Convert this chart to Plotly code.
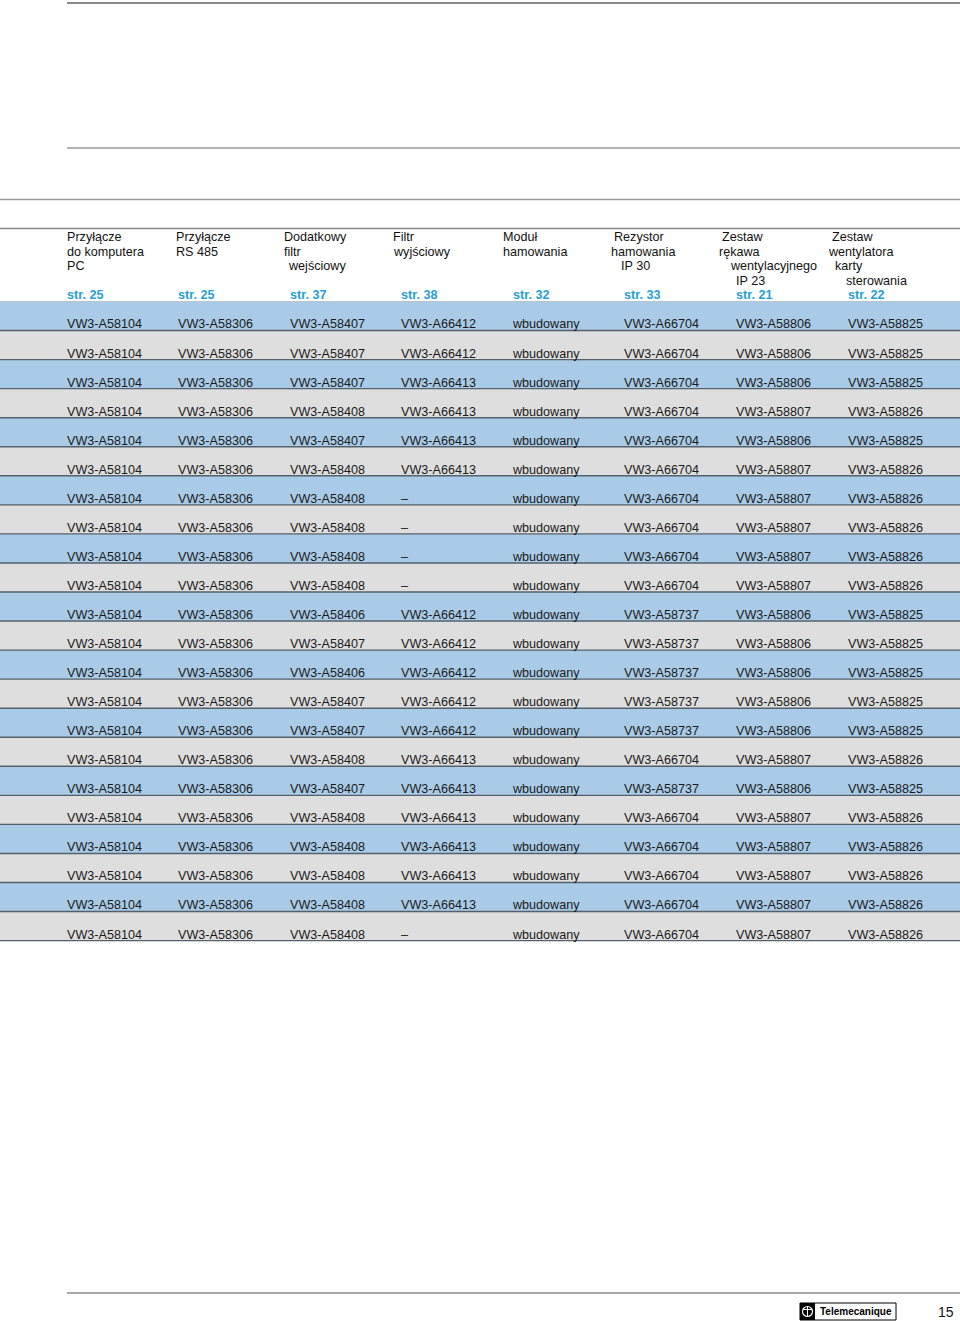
"""
Accessories table page (Polish catalogue) rebuilt with plotly
"""

import plotly.graph_objects as go

# --- data -------------------------------------------------------------
header_lines = [
    ["Przyłącze", "do komputera", "PC"],
    ["Przyłącze", "RS 485"],
    ["Dodatkowy", "filtr", "wejściowy"],
    ["Filtr", "wyjściowy"],
    ["Moduł", "hamowania"],
    ["Rezystor", "hamowania", "IP 30"],
    ["Zestaw", "rękawa", "wentylacyjnego", "IP 23"],
    ["Zestaw", "wentylatora", "karty", "sterowania"],
]
page_refs = ["str. 25", "str. 25", "str. 37", "str. 38", "str. 32", "str. 33", "str. 21", "str. 22"]

col_pc = ["VW3-A58104"] * 22
col_rs485 = ["VW3-A58306"] * 22
col_input_filter = [
    "VW3-A58407", "VW3-A58407", "VW3-A58407", "VW3-A58408", "VW3-A58407", "VW3-A58408",
    "VW3-A58408", "VW3-A58408", "VW3-A58408", "VW3-A58408", "VW3-A58406", "VW3-A58407",
    "VW3-A58406", "VW3-A58407", "VW3-A58407", "VW3-A58408", "VW3-A58407", "VW3-A58408",
    "VW3-A58408", "VW3-A58408", "VW3-A58408", "VW3-A58408",
]
col_output_filter = [
    "VW3-A66412", "VW3-A66412", "VW3-A66413", "VW3-A66413", "VW3-A66413", "VW3-A66413",
    "–", "–", "–", "–", "VW3-A66412", "VW3-A66412",
    "VW3-A66412", "VW3-A66412", "VW3-A66412", "VW3-A66413", "VW3-A66413", "VW3-A66413",
    "VW3-A66413", "VW3-A66413", "VW3-A66413", "–",
]
col_brake_module = ["wbudowany"] * 22
col_brake_resistor = [
    "VW3-A66704", "VW3-A66704", "VW3-A66704", "VW3-A66704", "VW3-A66704", "VW3-A66704",
    "VW3-A66704", "VW3-A66704", "VW3-A66704", "VW3-A66704", "VW3-A58737", "VW3-A58737",
    "VW3-A58737", "VW3-A58737", "VW3-A58737", "VW3-A66704", "VW3-A58737", "VW3-A66704",
    "VW3-A66704", "VW3-A66704", "VW3-A66704", "VW3-A66704",
]
col_sleeve_kit = [
    "VW3-A58806", "VW3-A58806", "VW3-A58806", "VW3-A58807", "VW3-A58806", "VW3-A58807",
    "VW3-A58807", "VW3-A58807", "VW3-A58807", "VW3-A58807", "VW3-A58806", "VW3-A58806",
    "VW3-A58806", "VW3-A58806", "VW3-A58806", "VW3-A58807", "VW3-A58806", "VW3-A58807",
    "VW3-A58807", "VW3-A58807", "VW3-A58807", "VW3-A58807",
]
col_fan_kit = [
    "VW3-A58825", "VW3-A58825", "VW3-A58825", "VW3-A58826", "VW3-A58825", "VW3-A58826",
    "VW3-A58826", "VW3-A58826", "VW3-A58826", "VW3-A58826", "VW3-A58825", "VW3-A58825",
    "VW3-A58825", "VW3-A58825", "VW3-A58825", "VW3-A58826", "VW3-A58825", "VW3-A58826",
    "VW3-A58826", "VW3-A58826", "VW3-A58826", "VW3-A58826",
]
columns = [col_pc, col_rs485, col_input_filter, col_output_filter,
           col_brake_module, col_brake_resistor, col_sleeve_kit, col_fan_kit]

# --- layout constants (page pixels) ----------------------------------
W, H = 960, 1321
FONT = "Liberation Sans, Arial, Helvetica, sans-serif"
BLUE = "#a9cbe7"
GREY = "#dedede"
col_x = [67, 178, 290, 401, 513, 624, 736, 848]
# per-line x of header text (indents as in the print)
header_x = [
    [67, 67, 67],
    [176, 176],
    [284, 284, 289],
    [393, 394],
    [503, 503],
    [614, 611, 621],
    [722, 719, 731, 736],
    [832, 829, 835, 846],
]
header_y0, header_dy = 238, 14.6
ref_y = 296
row_top, row_h = 301.5, 29.05

n_rows = len(col_pc)
row_centers = [row_top + row_h * (i + 0.5) for i in range(n_rows)]
row_bottoms = [row_top + row_h * (i + 1) for i in range(n_rows)]
row_text_y = [b - 5.2 for b in row_bottoms]
row_colors = [BLUE if i % 2 == 0 else GREY for i in range(n_rows)]

fig = go.Figure()

# row bands
fig.add_trace(go.Bar(
    orientation="h",
    y=row_centers,
    x=[W] * n_rows,
    base=0,
    width=row_h,
    marker=dict(color=row_colors, line=dict(width=0)),
    hoverinfo="skip",
))

# row separators (under the text)
sep_x, sep_y = [], []
for yb in row_bottoms:
    sep_x += [0, W, None]
    sep_y += [yb, yb, None]
fig.add_trace(go.Scatter(
    x=sep_x, y=sep_y, mode="lines",
    line=dict(color="#56606a", width=1.4),
    hoverinfo="skip",
))

# body text
for cx, vals in zip(col_x, columns):
    fig.add_trace(go.Scatter(
        x=[cx] * n_rows,
        y=row_text_y,
        mode="text",
        text=vals,
        textposition="middle right",
        textfont=dict(family=FONT, size=12.6, color="#1a1a1a"),
        hoverinfo="skip",
    ))

# header text
for xs, lines in zip(header_x, header_lines):
    fig.add_trace(go.Scatter(
        x=xs,
        y=[header_y0 + header_dy * k for k in range(len(lines))],
        mode="text",
        text=lines,
        textposition="middle right",
        textfont=dict(family=FONT, size=12.6, color="#111111"),
        hoverinfo="skip",
    ))

fig.add_trace(go.Scatter(
    x=col_x,
    y=[ref_y] * len(page_refs),
    mode="text",
    text=["<b>%s</b>" % r for r in page_refs],
    textposition="middle right",
    textfont=dict(family=FONT, size=12.6, color="#27a0d8"),
    hoverinfo="skip",
))

shapes = []
# page rules
for y, x0, col, w in [(3, 67, "#8a8a8a", 2), (148, 67, "#9a9a9a", 1.3),
                      (199.5, 0, "#9a9a9a", 1.5), (228.5, 0, "#8a8a8a", 1.5),
                      (1293, 67, "#a8a8a8", 2)]:
    shapes.append(dict(type="line", xref="x", yref="y", x0=x0, x1=W, y0=y, y1=y,
                       line=dict(color=col, width=w), layer="above"))
shapes.append(dict(type="line", xref="x", yref="y", x0=0, x1=W, y0=row_top, y1=row_top,
                   line=dict(color="#b9c3cc", width=1), layer="above"))

# footer logo
shapes.append(dict(type="rect", xref="x", yref="y", x0=800, x1=896, y0=1303, y1=1320,
                   line=dict(color="#000000", width=1), fillcolor="#ffffff"))
shapes.append(dict(type="rect", xref="x", yref="y", x0=800, x1=815, y0=1303, y1=1320,
                   line=dict(width=0), fillcolor="#000000"))
shapes.append(dict(type="circle", xref="x", yref="y", x0=802.5, x1=812.5, y0=1306.5, y1=1316.5,
                   line=dict(color="#ffffff", width=1.2)))
shapes.append(dict(type="line", xref="x", yref="y", x0=807.5, x1=807.5, y0=1307, y1=1316,
                   line=dict(color="#ffffff", width=1)))
shapes.append(dict(type="line", xref="x", yref="y", x0=803.5, x1=811.5, y0=1309.5, y1=1309.5,
                   line=dict(color="#ffffff", width=1)))

annotations = [
    dict(x=855.5, y=1311.5, xref="x", yref="y", text="<b>Telemecanique</b>", showarrow=False,
         xanchor="center", yanchor="middle", font=dict(family=FONT, size=10, color="#000000")),
    dict(x=956, y=1312, xref="x", yref="y", text="15", showarrow=False,
         xanchor="right", yanchor="middle", font=dict(family=FONT, size=14, color="#111111")),
]

fig.update_layout(
    width=W,
    height=H,
    margin=dict(l=0, r=0, t=0, b=0),
    paper_bgcolor="#ffffff",
    plot_bgcolor="#ffffff",
    showlegend=False,
    bargap=0,
    shapes=shapes,
    annotations=annotations,
    xaxis=dict(range=[0, W], visible=False, fixedrange=True),
    yaxis=dict(range=[H, 0], visible=False, fixedrange=True),
)

# drop the browser's default 8px body margin so the page sits at 0,0
fig.write_html("out.html", config={"displayModeBar": False},
               post_script="document.body.style.margin='0';")
